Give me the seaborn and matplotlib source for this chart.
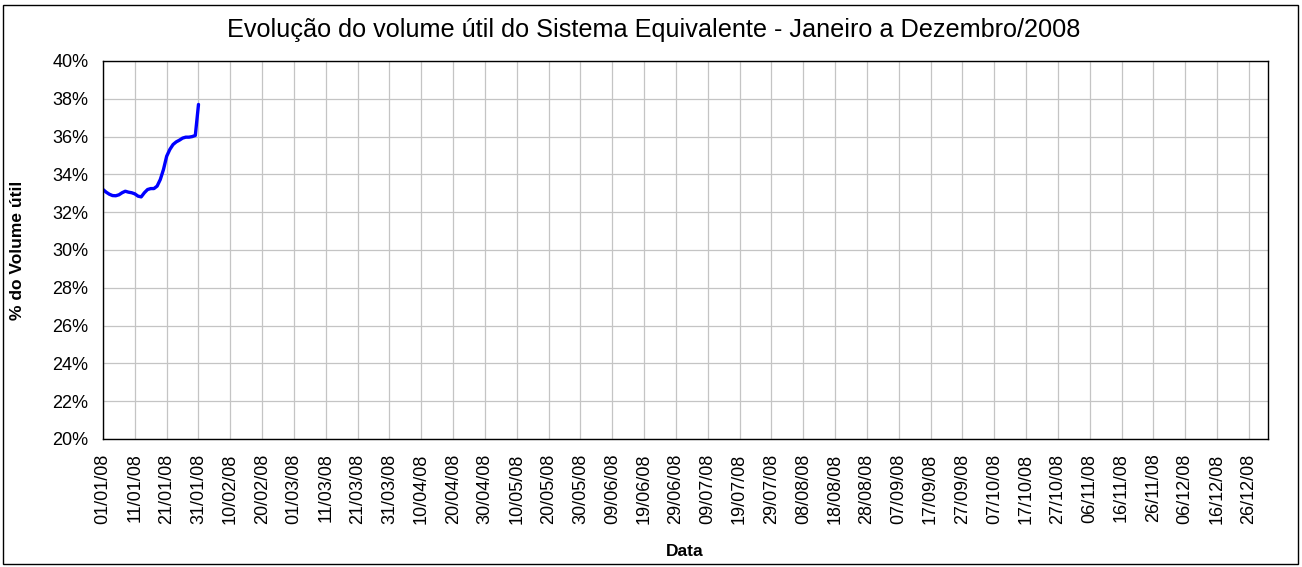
import numpy as np
import pandas as pd
import matplotlib
matplotlib.use("Agg")
import matplotlib.pyplot as plt
import seaborn as sns
from matplotlib.ticker import FuncFormatter, MultipleLocator
from matplotlib.patches import Rectangle

# Data
dates = pd.date_range("2008-01-01", "2008-01-31", freq="D")
volume = [33.2, 33.06, 32.95, 32.88, 32.87, 32.92, 33.03, 33.11, 33.06, 33.03,
          32.97, 32.85, 32.81, 33.03, 33.2, 33.25, 33.25, 33.38, 33.73, 34.26,
          34.96, 35.32, 35.58, 35.72, 35.81, 35.92, 35.97, 35.97, 36.0, 36.06,
          37.7]
tick_dates = pd.date_range("2008-01-01", "2008-12-31", freq="10D")
tick_labels = [d.strftime("%d/%m/%y") for d in tick_dates]

start = pd.Timestamp("2008-01-01")
df = pd.DataFrame({"day": [(d - start).days for d in dates], "vol": volume})
tick_pos = [(d - start).days for d in tick_dates]

sns.set_style("white")
plt.rcParams["font.family"] = ["Liberation Sans", "DejaVu Sans"]
plt.rcParams["text.color"] = "black"

fig = plt.figure(figsize=(13.02, 5.67), dpi=100)
ax = fig.add_axes([103/1302, 1-439/567, (1268-103)/1302, (439-61)/567])

sns.lineplot(data=df, x="day", y="vol", ax=ax, color="#0000FF", linewidth=2.4)

ax.set_xlim(0, 366)
ax.set_ylim(20, 40)
ax.yaxis.set_major_locator(MultipleLocator(2))
ax.yaxis.set_major_formatter(FuncFormatter(lambda v, p: f"{v:.0f}%"))
ax.set_xticks(tick_pos)
ax.set_xticklabels(tick_labels, rotation=90)
ax.grid(True, color="#C4C4C4", linewidth=0.9)
ax.set_axisbelow(True)
for s in ax.spines.values():
    s.set_color("black")
    s.set_linewidth(1.0)
ax.tick_params(axis="both", which="major", direction="out", length=3.5, width=1,
               color="black", labelsize=13, labelcolor="black")
ax.tick_params(axis="x", pad=7)
ax.tick_params(axis="y", pad=7)

ax.set_xlabel("")
ax.set_ylabel("")
fig.text(685/1302, 1-552/567, "Data", ha="center", va="center",
         fontsize=12.5, fontweight="bold", color="black")
fig.text(18/1302, 1-250/567, "% do Volume útil", ha="center", va="center",
         rotation=90, fontsize=12.5, fontweight="bold", color="black")
fig.text(654/1302, 1-30/567, "Evolução do volume útil do Sistema Equivalente - Janeiro a Dezembro/2008",
         ha="center", va="center", fontsize=18.2, color="black")

fig.patches.append(Rectangle((3/1302, 3/567), 1-7/1302, 1-8/567, transform=fig.transFigure,
                             fill=False, edgecolor="black", linewidth=1.0))

fig.savefig("out.png", dpi=100)
